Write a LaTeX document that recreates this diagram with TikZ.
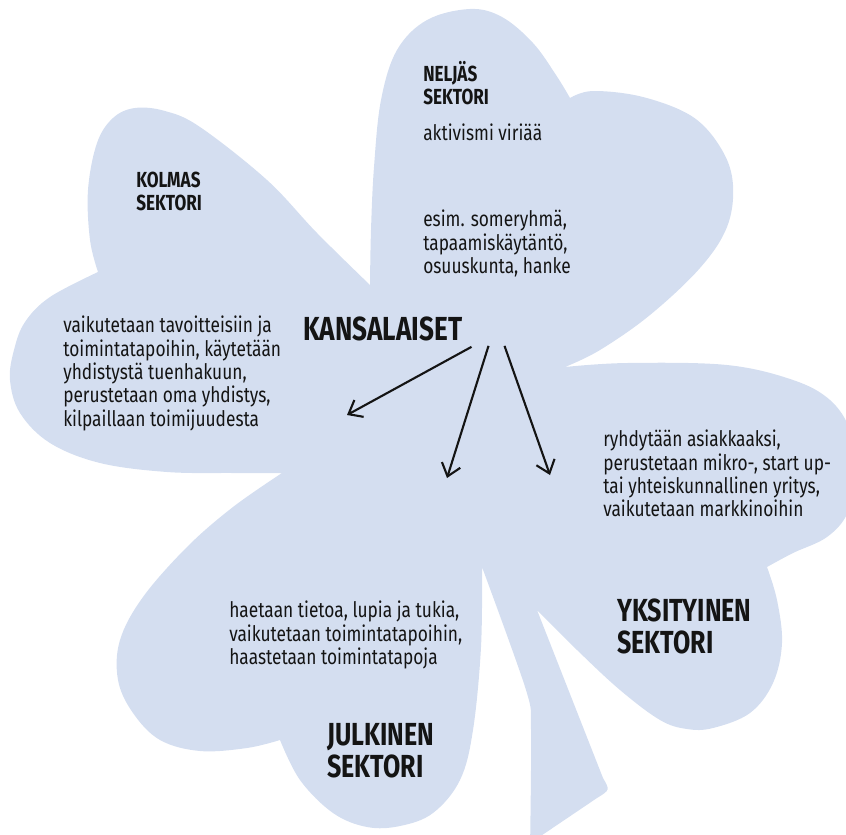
\documentclass[tikz,border=0pt]{standalone}
\usepackage{fontspec}
\setmainfont{Fira Sans}[FakeStretch=0.81, BoldFeatures={FakeStretch=0.785}]
\usetikzlibrary{arrows.meta,calc}
\definecolor{lehti}{HTML}{D4DEF0}
\definecolor{muste}{HTML}{141414}

\begin{document}
\begin{tikzpicture}[x=0.25mm, y=-0.25mm,
		teksti/.style={anchor=north west, inner sep=0, align=left, text=muste, font=\fontsize{15.2}{16.6}\selectfont},
		pieni/.style={teksti, font=\fontsize{15.5}{16.4}\selectfont\bfseries},
		iso/.style={teksti, font=\fontsize{22.7}{22.6}\selectfont\bfseries},
		pil/.style={line width=1.5pt, draw=muste, -{Straight Barb[length=3mm,width=4.8mm]}}]
		%%%%% START %%%%%
		
		\clip (0, 0) rectangle (846, 834);
		
		% apila
		\fill[lehti] plot[smooth, tension=0.6] coordinates {(370,285) (371,230) (374,167) (381,100) (397,50) (427,20) (470,9) (502,17) (533,43) (556,75) (570,98)}
			-- plot[smooth, tension=0.6] coordinates {(570,98) (593,91) (643,97) (693,117) (722,150) (733,185) (727,227) (700,268) (650,315) (600,350) (565,367)}
			-- plot[smooth, tension=0.6] coordinates {(565,367) (627,363) (727,365) (793,380) (830,400) (850,430) (856,470) (848,512) (827,537) (793,553) (767,567)}
			-- plot[smooth, tension=0.6] coordinates {(767,567) (777,600) (782,643) (773,683) (750,713) (713,728) (687,729) (660,720) (620,690) (577,650) (537,610)}
			-- (603, 778) .. controls (610, 790) .. (597, 798) -- (520, 850) -- (530, 850)
			-- plot[smooth, tension=0.5] coordinates {(530,850) (531,730) (526,690) (482,567)}
			-- plot[smooth, tension=0.6] coordinates {(482,567) (481,647) (473,730) (460,780) (433,813) (400,826) (367,827) (333,813) (300,780) (280,740)}
			-- plot[smooth, tension=0.6] coordinates {(280,740) (247,748) (200,751) (160,740) (133,713) (118,680) (120,640) (143,597) (187,547) (233,507) (282,473)}
			-- plot[smooth, tension=0.6] coordinates {(282,473) (233,473) (167,472) (100,463) (50,443) (20,413) (10,380) (14,350) (25,322) (50,297) (98,272)}
			-- plot[smooth, tension=0.6] coordinates {(98,272) (90,240) (88,190) (97,143) (113,118) (135,108) (165,111) (200,127) (267,180) (317,233) (370,285)}
			-- cycle;
		
		% tekstit
		\node[iso, anchor=base west, font=\fontsize{23.7}{24}\selectfont\bfseries] (kans) at (303, 340) {KANSALAISET};
		
		\node[pieni] (neljas) at (423, 61) {NELJÄS\\SEKTORI};
		\node[teksti, anchor=base west] (aktiv) at (423, 140) {aktivismi viriää};
		\node[teksti] (esim) at (423, 210) {esim. someryhmä,\\tapaamiskäytäntö,\\osuuskunta, hanke};
		
		\node[pieni] (kolmas) at (136, 172) {KOLMAS\\SEKTORI};
		\node[teksti] (kolmasteksti) at (63, 316) {vaikutetaan tavoitteisiin ja\\toimintatapoihin, käytetään\\yhdistystä tuenhakuun,\\perustetaan oma yhdistys,\\kilpaillaan toimijuudesta};
		
		\node[teksti] (yksteksti) at (603, 430) {ryhdytään asiakkaaksi,\\perustetaan mikro-, start up-\\tai yhteiskunnallinen yritys,\\vaikutetaan markkinoihin};
		\node[iso] (yks) at (617, 599) {YKSITYINEN\\SEKTORI};
		
		\node[teksti] (julkteksti) at (229, 601) {haetaan tietoa, lupia ja tukia,\\vaikutetaan toimintatapoihin,\\haastetaan toimintatapoja};
		\node[iso] (julk) at (327, 723) {JULKINEN\\SEKTORI};
		
		% nuolet
		\coordinate (kohde1) at (347, 415);
		\coordinate (kohde2) at (447, 478);
		\coordinate (kohde3) at (550, 475);
		\draw[pil] ($(kans.south east)+(9,6)$) -- (kohde1);
		\draw[pil] ($(kans.south east)+(26,5)$) -- (kohde2);
		\draw[pil] ($(kans.south east)+(42,5)$) -- (kohde3);
		
		%%%%% END %%%%%
\end{tikzpicture}
\end{document}
